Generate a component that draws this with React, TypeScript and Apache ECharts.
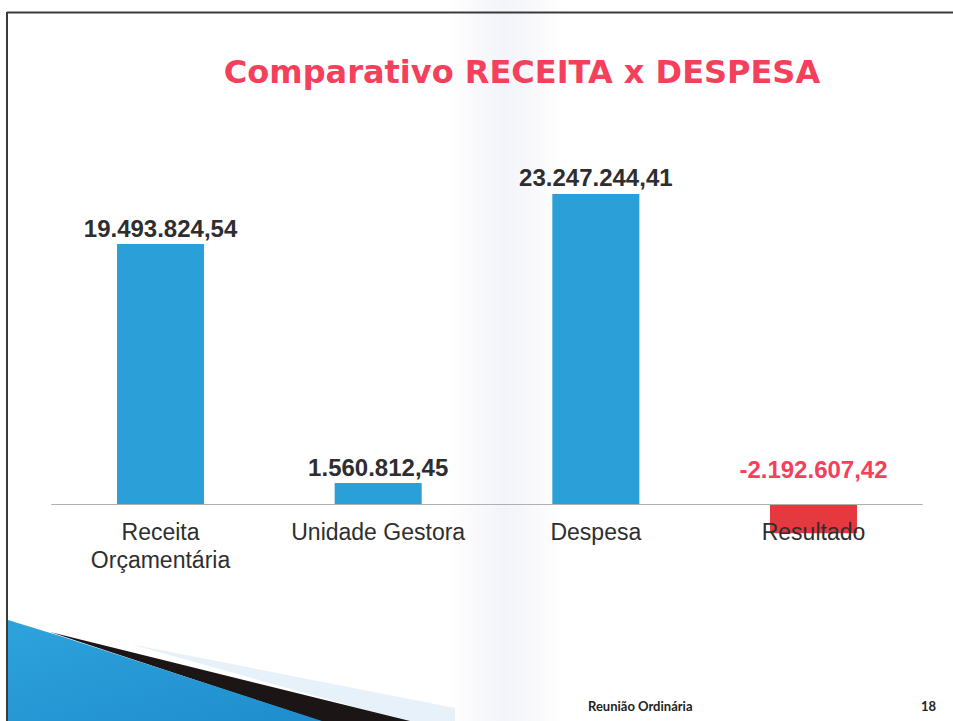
import React, { useEffect, useRef } from "react";
import * as echarts from "echarts";

const categories = ["Receita\nOrçamentária", "Unidade Gestora", "Despesa", "Resultado"];
const values = [19493824.54, 1560812.45, 23247244.41, -2192607.42];
const barColors = ["#2a9fd8", "#2a9fd8", "#2a9fd8", "#e5383f"];
const titleText = "Comparativo RECEITA x DESPESA";
const footerText = "Reunião Ordinária";
const pageNumber = "18";

function formatBR(v: number): string {
  const neg = v < 0;
  const abs = Math.abs(v);
  const fixed = abs.toFixed(2);
  const [intPart, dec] = fixed.split(".");
  const withDots = intPart.replace(/\B(?=(\d{3})+(?!\d))/g, ".");
  return (neg ? "-" : "") + withDots + "," + dec;
}

const GRID_TOP = 170.6;
const GRID_H = 400;
const Y_MIN = -5000000;
const Y_MAX = 25000000;
// distance from grid bottom up to the zero line
const ZERO_OFFSET = (GRID_H * (0 - Y_MIN)) / (Y_MAX - Y_MIN);

export default function App() {
  const ref = useRef<HTMLDivElement>(null);
  useEffect(() => {
    if (!ref.current) return;
    const chart = echarts.init(ref.current, null, { renderer: "svg" });
    const option: any = {
      animation: false,
      backgroundColor: "#ffffff",
      title: {
        text: titleText,
        left: 517,
        top: 51,
        textAlign: "center",
        textStyle: {
          fontFamily: "DejaVu Sans",
          fontSize: 32,
          fontWeight: "bold",
          color: "#f5405c",
        },
      },
      grid: { left: 51.7, right: 30.7, top: GRID_TOP, height: GRID_H },
      xAxis: {
        type: "category",
        data: categories,
        z: 5,
        offset: -ZERO_OFFSET,
        axisLine: { show: true, onZero: false, lineStyle: { color: "#b0b0b0", width: 1 } },
        axisTick: { show: false },
        axisLabel: {
          interval: 0,
          margin: 14,
          fontSize: 23,
          lineHeight: 28,
          color: "#2e2e2e",
          fontFamily: "Liberation Sans",
        },
      },
      yAxis: {
        type: "value",
        min: Y_MIN,
        max: Y_MAX,
        show: false,
        splitLine: { show: false },
      },
      series: [
        {
          type: "bar",
          barWidth: 87,
          data: values.map((v, i) => ({
            value: v,
            itemStyle: { color: barColors[i] },
            label: v < 0 ? { color: "#f5405c", distance: 22 } : undefined,
          })),
          label: {
            show: true,
            position: "top",
            distance: 4,
            fontSize: 24,
            fontWeight: "bold",
            color: "#2e2e2e",
            fontFamily: "Liberation Sans",
            formatter: (p: any) => formatBR(p.value),
          },
        },
      ],
      graphic: [
        {
          type: "rect",
          z: 0,
          shape: { x: 445, y: 0, width: 120, height: 721 },
          style: {
            fill: new echarts.graphic.LinearGradient(0, 0, 1, 0, [
              { offset: 0, color: "rgba(215,218,235,0)" },
              { offset: 0.5, color: "rgba(215,218,235,0.3)" },
              { offset: 1, color: "rgba(215,218,235,0)" },
            ]),
          },
          silent: true,
        },
        {
          type: "line",
          shape: { x1: 7, y1: 12.5, x2: 953, y2: 12.5 },
          style: { stroke: "#3a3a3a", lineWidth: 2 },
        },
        {
          type: "line",
          shape: { x1: 7, y1: 12, x2: 7, y2: 721 },
          style: { stroke: "#3a3a3a", lineWidth: 2 },
        },
        {
          type: "polygon",
          shape: { points: [[130, 644], [455, 708], [455, 721], [405, 721]] },
          style: { fill: "rgba(175,210,235,0.3)" },
        },
        {
          type: "polygon",
          shape: { points: [[50, 632], [410, 721], [320, 721]] },
          style: { fill: "#1c1515" },
        },
        {
          type: "polygon",
          shape: { points: [[8, 620], [60, 636], [322, 721], [8, 721]] },
          style: {
            fill: new echarts.graphic.LinearGradient(0, 0, 1, 1, [
              { offset: 0, color: "#2da3dc" },
              { offset: 1, color: "#1f8dcd" },
            ]),
          },
        },
        {
          type: "text",
          x: 588,
          y: 706,
          style: {
            text: footerText,
            fontFamily: "Lato",
            fontWeight: "bold",
            fontSize: 13,
            fill: "#222222",
            verticalAlign: "middle",
          },
        },
        {
          type: "text",
          x: 936,
          y: 706,
          style: {
            text: pageNumber,
            fontFamily: "Lato",
            fontWeight: "bold",
            fontSize: 13,
            fill: "#222222",
            align: "right",
            verticalAlign: "middle",
          },
        },
      ],
    };
    chart.setOption(option);
    return () => chart.dispose();
  }, []);
  return (
    <div
      ref={ref}
      style={{ position: "fixed", left: 0, top: 0, width: 953, height: 721 }}
    />
  );
}
